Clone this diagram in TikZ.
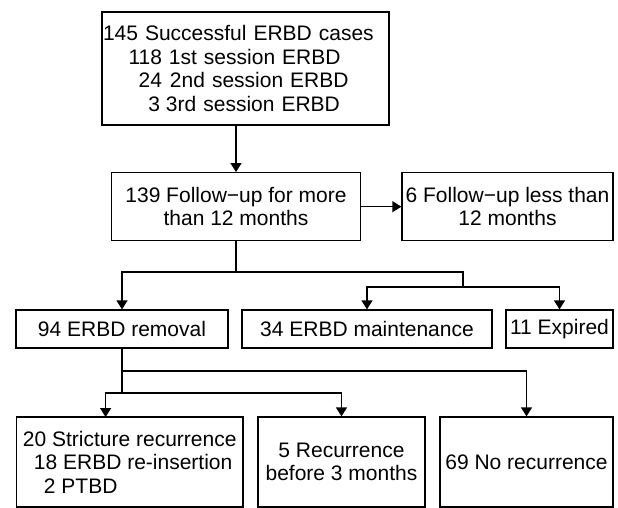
\documentclass[tikz,border=0pt]{standalone}
\usepackage{fontspec}
\setmainfont{Liberation Sans}
\usetikzlibrary{arrows.meta}
\begin{document}
\begin{tikzpicture}[x=1pt,y=-1pt,
  box/.style={draw, line width=1.3pt, inner sep=0pt, align=center,
    font=\fontsize{21}{23.5}\selectfont},
  conn/.style={line width=1.3pt},
  arr/.style={conn, -{Triangle[width=11pt,length=9pt]}}]
\useasboundingbox (0,0) rectangle (618,508);
% top box
\node[box, minimum width=287pt, minimum height=113pt, text width=285pt, inner xsep=1pt, align=left] (b1) at (245.5,68.5)
  {145 Successful ERBD cases\\
   \makebox[59pt][r]{118}\hspace{7pt}1st session ERBD\\
   \makebox[59pt][r]{24}\hspace{8pt}2nd session ERBD\\
   \makebox[57pt][r]{3}\hspace{6pt}3rd session ERBD};
\node[box, minimum width=249pt, minimum height=68pt] (b2) at (236,206.7)
  {139 Follow−up for more\\than 12 months};
\node[box, minimum width=211pt, minimum height=68pt] (b3) at (507.5,206.7)
  {6 Follow−up less than\\12 months};
% middle row
\node[box, minimum width=212pt, minimum height=38pt] (b4) at (122,329) {94 ERBD removal};
\node[box, minimum width=250pt, minimum height=38pt] (b5) at (367,329) {34 ERBD maintenance};
\node[box, minimum width=107pt, minimum height=38pt] (b6) at (559.5,329) {11 Expired};
% bottom row
\node[box, minimum width=226.5pt, minimum height=90pt, align=left] (b7) at (129.75,462)
  {20 Stricture recurrence\\
   \hspace*{11pt}18 ERBD re-insertion\\
   \hspace*{21pt}2 PTBD};
\node[box, minimum width=167pt, minimum height=90pt] (b8) at (341.5,462)
  {5 Recurrence\\before 3 months};
\node[box, minimum width=173pt, minimum height=90pt] (b9) at (526.5,462) {69 No recurrence};
% junctions
\coordinate (j1) at (236,272);
\coordinate (j2) at (463,287);
\coordinate (j3) at (122,371);
\coordinate (j4) at (122,393);
\coordinate (t7) at (105.6,417);
% connectors
\draw[arr] (b1.south -| b2.north) -- (b2.north);
\draw[arr] (b2.east) -- (b3.west);
\draw[conn] (b2.south) -- (j1);
\draw[arr] (j1) -| (b4.north);
\draw[conn] (j1) -| (j2);
\draw[arr] (j2) -| (b5.north);
\draw[arr] (j2) -| (b6.north);
\draw[conn] (b4.south) -- (j4);
\draw[arr] (j3) -| (b9.north);
\draw[arr] (j4) -| (t7);
\draw[arr] (j4) -| (b8.north);
\end{tikzpicture}
\end{document}
